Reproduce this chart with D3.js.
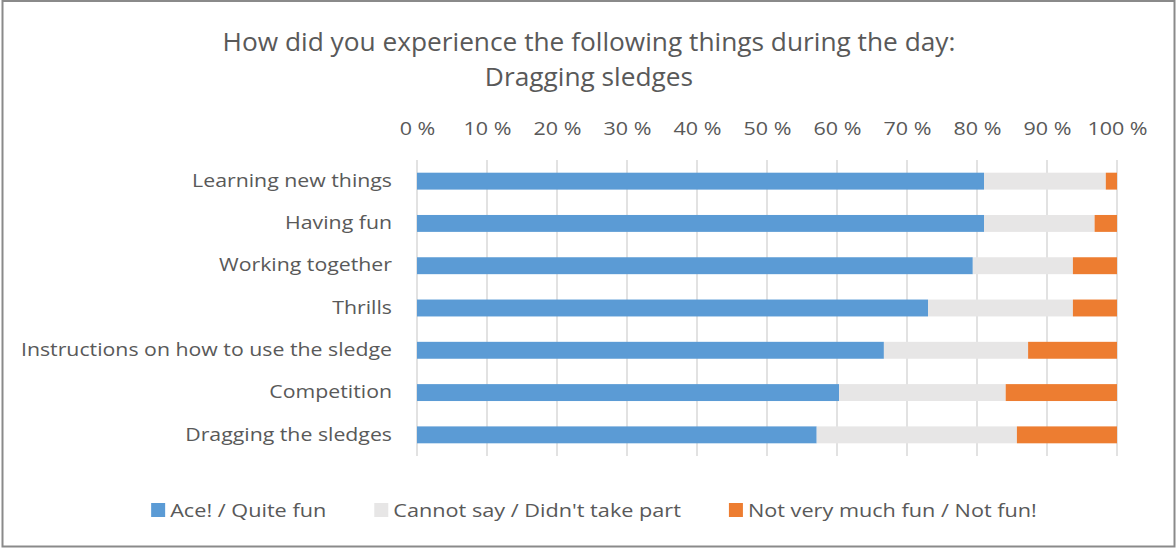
<!DOCTYPE html>
<html>
<head>
<meta charset="utf-8">
<script src="https://cdn.jsdelivr.net/npm/d3@7"></script>
<style>
  html, body { margin: 0; padding: 0; background: #fff; }
  svg { display: block; }
  text { font-family: "Open Sans", "Noto Sans", sans-serif; fill: #595959; }
</style>
</head>
<body>
<svg id="chart" width="1176" height="548"></svg>
<script>
// Survey answers per activity, share of respondents (%)
const categories = [
  "Learning new things",
  "Having fun",
  "Working together",
  "Thrills",
  "Instructions on how to use the sledge",
  "Competition",
  "Dragging the sledges"
];
const seriesNames = ["Ace! / Quite fun", "Cannot say / Didn't take part", "Not very much fun / Not fun!"];
const aceQuiteFun   = [81.0, 81.0, 79.4, 73.0, 66.7, 60.3, 57.1];
const cannotSay     = [17.4, 15.8, 14.3, 20.7, 20.6, 23.8, 28.6];
const notFun        = [ 1.6,  3.2,  6.3,  6.3, 12.7, 15.9, 14.3];
const tickValues    = [0, 10, 20, 30, 40, 50, 60, 70, 80, 90, 100];
const titleLines    = ["How did you experience the following things during the day:", "Dragging sledges"];

const colors = ["#5B9BD5", "#E7E6E6", "#ED7D31"];
const keys = ["ace", "cannot", "notfun"];

const rows = categories.map((c, i) => ({
  category: c, ace: aceQuiteFun[i], cannot: cannotSay[i], notfun: notFun[i]
}));

const svg = d3.select("#chart");
const W = 1176, H = 548;
const plot = { left: 417, right: 1117, top: 160, bottom: 456 };

// chart frame
svg.append("rect")
  .attr("x", 2.5).attr("y", 1).attr("width", W - 4).attr("height", H - 2.5)
  .attr("fill", "#fff").attr("stroke", "#8a8a8a").attr("stroke-width", 2);

const x = d3.scaleLinear().domain([0, 100]).range([plot.left, plot.right]);
const y = d3.scaleBand().domain(categories).range([plot.top, plot.bottom])
  .paddingInner(0.6).paddingOuter(0.3);

// widen/narrow text horizontally by a factor
function stretch(sel, factor) {
  sel.each(function () {
    const len = this.getComputedTextLength();
    d3.select(this).attr("textLength", len * factor).attr("lengthAdjust", "spacingAndGlyphs");
  });
}

// title
const title = svg.append("g");
titleLines.forEach((t, i) => {
  title.append("text")
    .attr("x", 589).attr("y", 51 + i * 35)
    .attr("text-anchor", "middle")
    .attr("font-size", 25.5)
    .text(t)
    .call(stretch, 1.03);
});

// vertical gridlines
svg.append("g")
  .selectAll("line").data(tickValues).join("line")
  .attr("x1", d => x(d)).attr("x2", d => x(d))
  .attr("y1", plot.top).attr("y2", plot.bottom)
  .attr("stroke", "#D9D9D9").attr("stroke-width", 1.5);

// top axis labels
const xAxis = d3.axisTop(x).tickValues(tickValues).tickFormat(d => d + " %").tickSize(0).tickPadding(0);
const gx = svg.append("g").attr("transform", `translate(0,135)`).call(xAxis);
gx.select(".domain").remove();
gx.selectAll("text")
  .attr("font-size", 19).attr("fill", "#595959")
  .attr("font-family", "\"Open Sans\", sans-serif")
  .attr("dy", 0).attr("y", 0)
  .call(stretch, 1.13);

// category axis
const yAxis = d3.axisLeft(y).tickSize(0).tickPadding(0);
const gy = svg.append("g").attr("transform", `translate(392,0)`).call(yAxis);
gy.select(".domain").remove();
gy.selectAll("text")
  .attr("font-size", 19).attr("fill", "#595959")
  .attr("font-family", "\"Open Sans\", sans-serif")
  .attr("dy", "0.3em")
  .call(stretch, 1.12);

// stacked bars
const stack = d3.stack().keys(keys)(rows);
svg.append("g")
  .selectAll("g").data(stack).join("g")
  .attr("fill", (d, i) => colors[i])
  .selectAll("rect").data(d => d).join("rect")
  .attr("x", d => x(d[0]))
  .attr("width", d => x(d[1]) - x(d[0]))
  .attr("y", d => y(d.data.category))
  .attr("height", y.bandwidth());

// legend
const legendStretch = 1.14;
const legend = svg.append("g");
const items = legend.selectAll("g").data(seriesNames).join("g");
items.append("rect").attr("width", 14).attr("height", 14).attr("y", 503)
  .attr("fill", (d, i) => colors[i]);
items.append("text").attr("x", 19).attr("y", 517)
  .attr("font-size", 19).text(d => d);
const widths = [];
items.select("text").each(function () {
  const len = this.getComputedTextLength() * legendStretch;
  d3.select(this).attr("textLength", len).attr("lengthAdjust", "spacingAndGlyphs");
  widths.push(19 + len);
});
const gap = 48;
const total = d3.sum(widths) + gap * (widths.length - 1);
let cx = 594 - total / 2;
items.each(function (d, i) {
  d3.select(this).attr("transform", `translate(${cx},0)`);
  cx += widths[i] + gap;
});
</script>
</body>
</html>
